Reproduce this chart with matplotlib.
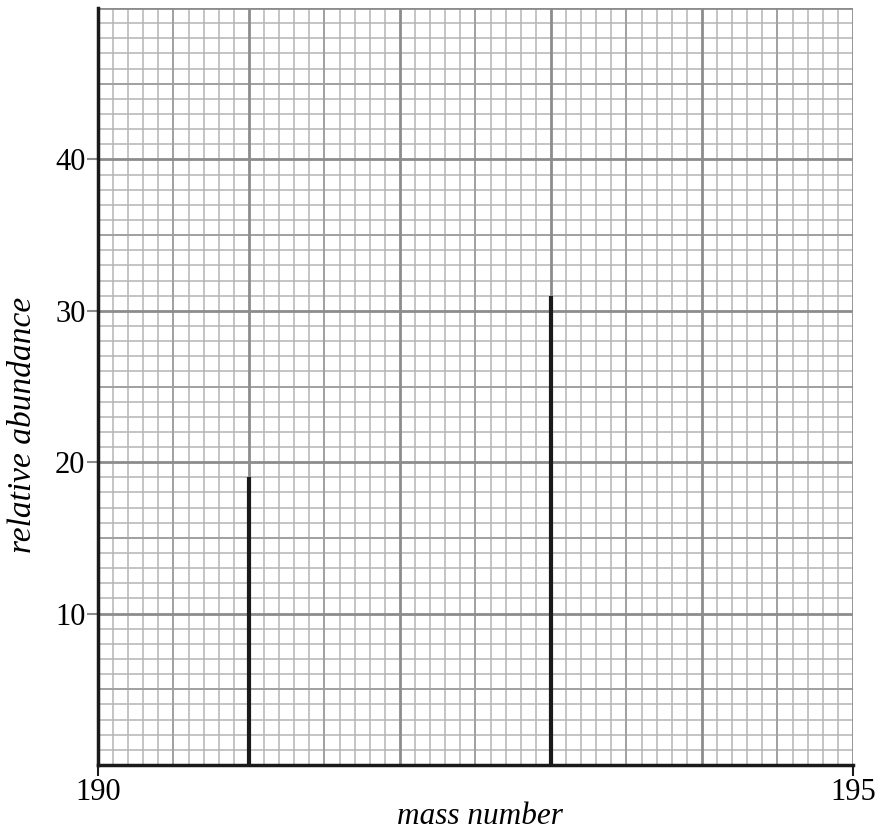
import numpy as np
import matplotlib
matplotlib.use("Agg")
import matplotlib.pyplot as plt

# data
mass_number = [191, 193]
abundance = [19, 31]

x_ticks = [190, 195]
y_ticks = [10, 20, 30, 40]

plt.rcParams["font.family"] = ["Liberation Serif", "DejaVu Serif"]

fig = plt.figure(figsize=(8.84, 8.32), dpi=100)
ax = fig.add_axes([98 / 884, 67 / 832, 755 / 884, 757 / 832])
ax.set_xlim(190, 195)
ax.set_ylim(0, 50)

# graph-paper grid: fine, half and major lines
fine_c, half_c, major_c = "#b4b4b4", "#a0a0a0", "#8c8c8c"
for v in np.arange(190, 195.001, 0.1):
    r = round(v * 10)
    if r % 10 == 0:
        ax.axvline(v, color=major_c, lw=2.0, zorder=1)
    elif r % 5 == 0:
        ax.axvline(v, color=half_c, lw=1.4, zorder=0.8)
    else:
        ax.axvline(v, color=fine_c, lw=1.1, zorder=0.5)
for v in range(0, 51):
    if v % 10 == 0:
        ax.axhline(v, color=major_c, lw=2.0, zorder=1)
    elif v % 5 == 0:
        ax.axhline(v, color=half_c, lw=1.4, zorder=0.8)
    else:
        ax.axhline(v, color=fine_c, lw=1.1, zorder=0.5)

# peaks
ax.vlines(mass_number, 0, abundance, color="#1a1a1a", lw=3, zorder=3)

for s in ["top", "right"]:
    ax.spines[s].set_visible(False)
for s in ["left", "bottom"]:
    ax.spines[s].set_linewidth(2.5)
    ax.spines[s].set_color("#1a1a1a")
    ax.spines[s].set_zorder(4)

ax.set_xticks(x_ticks)
ax.set_xticklabels([str(t) for t in x_ticks])
ax.set_yticks(y_ticks)
ax.set_yticklabels([str(t) for t in y_ticks])
ax.tick_params(axis="x", length=8, width=1.5, color="#1a1a1a", labelsize=22, pad=1)
ax.tick_params(axis="y", length=8, width=1.5, color="#8c8c8c", labelsize=22, pad=1)

ax.set_xlabel("mass number", fontsize=22.5, style="italic")
ax.set_ylabel("relative abundance", fontsize=24, style="italic")
ax.xaxis.set_label_coords(0.506, -0.049)
ax.yaxis.set_label_coords(-0.080, 0.449)

fig.savefig("out.png", dpi=100)
